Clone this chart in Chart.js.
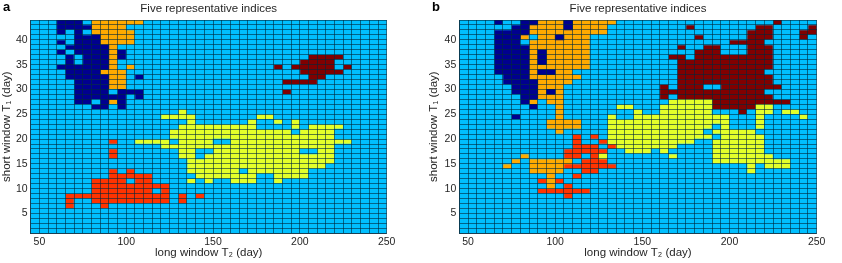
<!DOCTYPE html>
<html><head><meta charset="utf-8">
<script src="https://cdn.jsdelivr.net/npm/chart.js@4"></script>
<style>
html,body{margin:0;padding:0;background:#fff;}
#wrap{position:relative;width:842px;height:263px;overflow:hidden;}
.c{position:absolute;top:0;width:421px;height:263px;}
</style></head><body>
<div id="wrap">
<div class="c" style="left:0"><canvas id="ca"></canvas></div>
<div class="c" style="left:421px"><canvas id="cb"></canvas></div>
</div>
<script>
// grid definition (long window T2 columns, short window T1 rows)
const xStart = 45, xStep = 5, nCols = 41;
const yStart = 1, nRows = 43;
const xTicks = [50, 100, 150, 200, 250];
const yTicks = [5, 10, 15, 20, 25, 30, 35, 40];
const codes = ['.', 'N', 'O', 'Y', 'R', 'D'];
const colors = ['#00BFFF', '#00008F', '#FFAA00', '#E4FF2A', '#FF3300', '#800000'];

// rows from top (T1=43) to bottom (T1=1); runs "Code start-end" by column index
const rowsA = [
 "N3-5 O7-12",
 "N3-6 O7-10",
 "N3 N5 O7-11",
 "N5-7 O8-11",
 "N3 N5-7 O8-11",
 "N4-8 O9",
 "N3 N5-8 O9 N10",
 "N4 N6-8 O9 N10 D32-35",
 "N4 N6-8 O9 D31-34",
 "N3-8 O9 O11 D28 D30-34 D36",
 "N4-7 O8-10 D31-35",
 "N4-8 O9-10 N12 D32-33",
 "N5-8 O9-10 D29-32",
 "N5-8 O9-10",
 "N5-8 N10-12 D29",
 "N5-10 N12",
 "N5-6 N8 O9 N10",
 "N7-8 N10",
 "Y17",
 "Y15-18 Y26-27",
 "Y18 Y25 Y28 Y30",
 "Y17-25 Y30 Y32-35",
 "Y16-29 Y31-34",
 "Y16-34",
 "R9 Y12-15 Y17-20 Y23-36",
 "Y15-34",
 "R9 Y17-18 Y21-30 Y33-34",
 "R9 Y17-18 Y20-34",
 "Y18-34",
 "Y18-33",
 "R9 R11 Y18-23 Y25-31",
 "R9-13 Y19-25 Y28-31",
 "R7-10 R12-13 Y18 Y20 Y23-25 Y28",
 "R7-15",
 "R7-13 R15",
 "R4-15 R17 R19",
 "R4 R7-15 R17",
 "R4 R8",
 "", "", "", "", ""
];
const rowsB = [
 "N4 N7-8 O9-11 N12 O13-17 D36",
 "N6-7 O8-11 N12 O13-16 D26 D34-35 D40",
 "N4-7 O8-16 D33-35 D39-40",
 "N4-6 O7 O9-10 N11 O12-14 D27 D33-35 D39",
 "N4-6 O8-14 D31-34",
 "N4-7 O8-14 D25 D28-29 D33-35",
 "N4-7 O8 N9 O10-14 D27-29 D33-35",
 "N4-7 O8 N9 O10-14 D24-25 D27-35",
 "N4-7 O8 N9 O10-14 D25-35",
 "N4-7 O8-14 D25-35",
 "N4-7 O8 N9-10 O11-12 D25-34",
 "N5-7 O8-13 D25-35",
 "N5-8 O9-12 D25-35",
 "N6-8 O9-11 D23 D25-27 D30-36",
 "N6-8 O9 N10 O11 D23-34",
 "N7-8 O9-11 D23 D25-35",
 "N7 O8 O10-11 Y24-28 D29-37",
 "N8 O11 Y18-19 Y23-28 D29-33 Y34-35",
 "O11 Y20 Y23-28 D32 Y34-35 Y37-38",
 "N6 O11 Y17 Y20-30 Y34 Y39",
 "O10-13 Y17-30 Y34",
 "O10-13 Y17-28 Y30 Y34",
 "O11 Y17-27 Y29-33",
 "R13 R15 Y17-28 Y30-34",
 "R13 R16 Y17-26 Y29-34",
 "R13-15 R17 Y18-24 Y29-34",
 "R12-16 Y19-21 Y23 Y29-34",
 "O7 R12-13 R15 Y16 Y24 Y29-35",
 "O6 O8-12 R14-16 Y29-37",
 "O5 O8-11 R12-17 Y33 Y35-37",
 "O8-11 R14-15 Y33",
 "O10 R13",
 "R9 O10 R11",
 "O10 R12",
 "R9-14",
 "R12",
 "", "", "", "", "", "", ""
];

const FONT = "'Liberation Sans', Arial, sans-serif";
const TXT = '#262626';

function parseRows(rows) {
  const g = [];
  for (let j = 0; j < nRows; j++) {
    const line = new Array(nCols).fill('.');
    const s = (rows[j] || '').trim();
    if (s) s.split(/\s+/).forEach(tok => {
      const c = tok[0];
      const p = tok.slice(1).split('-').map(Number);
      const a = p[0], b = p.length > 1 ? p[1] : p[0];
      for (let i = a; i <= b; i++) line[i] = c;
    });
    g.push(line);
  }
  return g;
}

const letterPlugin = {
  id: 'panelLetter',
  afterDraw(chart, args, opts) {
    const ctx = chart.ctx;
    ctx.save();
    ctx.font = "bold 13px " + FONT;
    ctx.fillStyle = '#000';
    ctx.textBaseline = 'alphabetic';
    ctx.fillText(opts.text, opts.x, 10.5);
    ctx.restore();
  }
};

function makeChart(id, rows, letter, letterX, yAxisW, padLeft, padRight) {
  const g = parseRows(rows);
  const datasets = codes.map((c, k) => ({
    label: c, data: [], backgroundColor: colors[k], borderWidth: 0,
    grouped: false, categoryPercentage: 1, barPercentage: 1
  }));
  for (let j = 0; j < nRows; j++) {
    const y0 = yStart + nRows - 1 - j;
    for (let i = 0; i < nCols; i++) {
      const k = codes.indexOf(g[j][i]);
      datasets[k].data.push({ x: xStart + xStep * (i + 0.5), y: [y0, y0 + 1] });
    }
  }
  const tickFont = { family: FONT, size: 10.5 };
  const titleFont = { family: FONT, size: 11.5 };
  return new Chart(document.getElementById(id), {
    type: 'bar',
    data: { datasets },
    options: {
      responsive: true, maintainAspectRatio: false, animation: false,
      layout: { padding: { left: padLeft, right: padRight, top: 0, bottom: 0 } },
      plugins: {
        legend: { display: false }, tooltip: { enabled: false },
        title: { display: true, text: 'Five representative indices', fullSize: false,
          font: { family: FONT, size: 11.5, weight: 'normal' }, color: TXT,
          padding: { top: 2, bottom: 4.2 } },
        panelLetter: { text: letter, x: letterX }
      },
      scales: {
        x: {
          type: 'linear', min: xStart, max: xStart + xStep * nCols, offset: false,
          ticks: { stepSize: xStep, autoSkip: false, maxRotation: 0, minRotation: 0,
            font: tickFont, color: TXT, padding: 3,
            callback: v => xTicks.includes(v) ? String(v) : '' },
          grid: { color: 'rgba(0,40,60,0.6)', lineWidth: 1, drawTicks: false, offset: false, z: 1 },
          border: { display: true, color: 'rgba(0,40,60,0.7)', z: 1 },
          title: { display: true, text: 'long window T\u2082 (day)', font: titleFont, color: TXT,
            padding: { top: 0, bottom: 3 } },
          afterFit: s => { s.height = 29.7; }
        },
        y: {
          type: 'linear', min: yStart, max: yStart + nRows,
          ticks: { stepSize: 1, autoSkip: false, font: tickFont, color: TXT, padding: 3,
            callback: v => yTicks.includes(v) ? String(v) : '' },
          grid: { color: 'rgba(0,40,60,0.6)', lineWidth: 1, drawTicks: false, z: 1 },
          border: { display: true, color: 'rgba(0,40,60,0.7)', z: 1 },
          title: { display: true, text: 'short window T\u2081 (day)', font: titleFont, color: TXT,
            padding: { top: 0, bottom: 0 } },
          afterFit: s => { s.width = yAxisW; }
        }
      }
    },
    plugins: [letterPlugin]
  });
}

makeChart('ca', rowsA, 'a', 3, 30.7, 0, 34.3);
makeChart('cb', rowsB, 'b', 11, 32.3, 6, 25.3);
</script>
</body></html>
